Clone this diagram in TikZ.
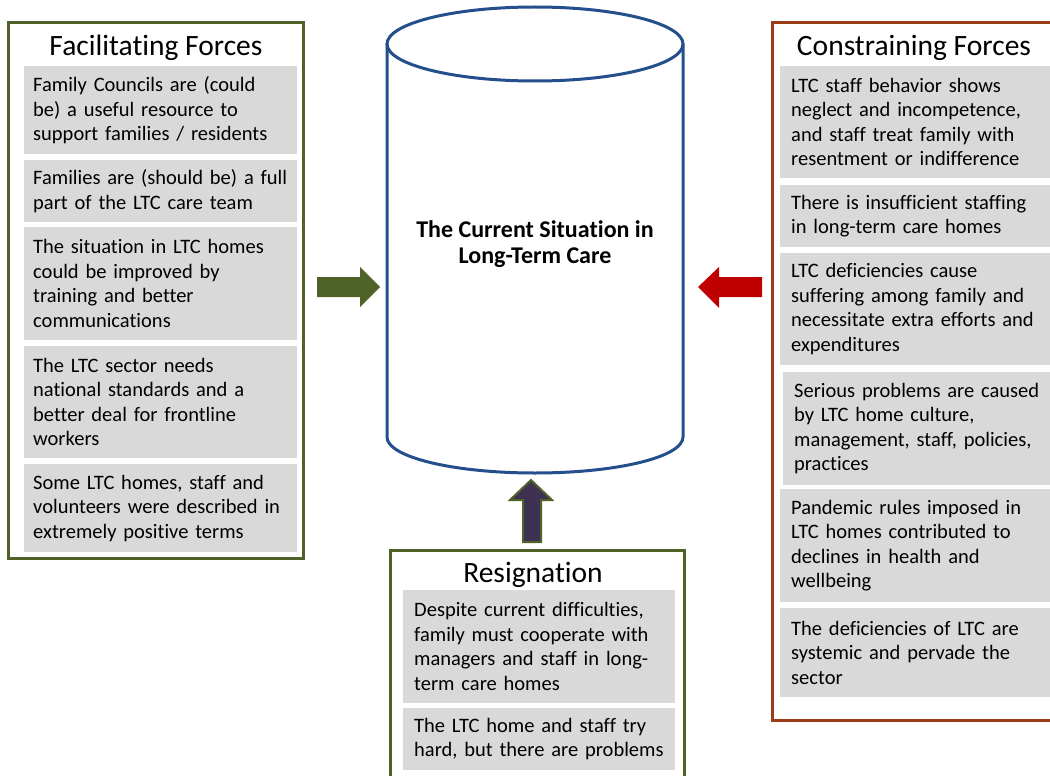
\documentclass[tikz,border=0pt]{standalone}
\usepackage{fontspec}
\setmainfont{Carlito}[Ligatures={NoCommon,NoRequired,NoContextual}]
\usetikzlibrary{positioning}
\definecolor{facgreen}{HTML}{4F6228}
\definecolor{conbrown}{HTML}{9C3D17}
\definecolor{cylblue}{HTML}{254F8C}
\definecolor{arrred}{HTML}{C00000}
\definecolor{arrpurple}{HTML}{3F3151}
\definecolor{boxgray}{HTML}{D9D9D9}
\tikzset{
  item/.style={fill=boxgray, anchor=north west, inner xsep=11pt, inner ysep=0pt,
    align=left, font=\fontsize{20.5}{24.5}\selectfont},
  heading/.style={anchor=base, font=\fontsize{29.5}{33}\selectfont},
  frame/.style={line width=3pt},
}

\begin{document}
\begin{tikzpicture}[x=1pt,y=-1pt]
\useasboundingbox (0,0) rectangle (1050,776);
\clip (0,0) rectangle (1050,776);
% facilitating forces
\draw [frame, facgreen] (8,23) rectangle (303,558);
\node [heading] (facT) at (156,56) {Facilitating Forces};
\node [item, inner xsep=9pt, text width=255pt, minimum height=88pt] (fac1) at (24,66) {Family Councils are (could\\be) a useful resource to\\support families / residents};
\node [item, inner xsep=9pt, text width=255pt, minimum height=62pt] (fac2) at (24,160) {Families are (should be) a full\\part of the LTC care team};
\node [item, inner xsep=9pt, text width=255pt, minimum height=113pt] (fac3) at (24,227) {The situation in LTC homes\\could be improved by\\training and better\\communications};
\node [item, inner xsep=9pt, text width=255pt, minimum height=112pt] (fac4) at (24,346) {The LTC sector needs\\national standards and a\\better deal for frontline\\workers};
\node [item, inner xsep=9pt, text width=255pt, minimum height=88pt] (fac5) at (24,464) {Some LTC homes, staff and\\volunteers were described in\\extremely positive terms};
% constraining forces
\draw [frame, conbrown] (772,23) rectangle (1070,720);
\node [heading] (conT) at (914,56) {Constraining Forces};
\node [item, text width=268pt, minimum height=112pt] (con1) at (780,66) {LTC staff behavior shows\\neglect and incompetence,\\and staff treat family with\\resentment or indifference};
\node [item, text width=268pt, minimum height=62pt] (con2) at (780,185) {There is insufficient staffing\\in long-term care homes};
\node [item, text width=268pt, minimum height=112pt] (con3) at (780,253) {LTC deficiencies cause\\suffering among family and\\necessitate extra efforts and\\expenditures};
\node [item, text width=268pt, minimum height=113pt] (con4) at (783,372) {Serious problems are caused\\by LTC home culture,\\management, staff, policies,\\practices};
\node [item, text width=268pt, minimum height=113pt] (con5) at (780,489) {Pandemic rules imposed in\\LTC homes contributed to\\declines in health and\\wellbeing};
\node [item, text width=268pt, minimum height=89pt] (con6) at (780,608) {The deficiencies of LTC are\\systemic and pervade the\\sector};
% resignation
\draw [frame, facgreen] (390,550) rectangle (684,790);
\node [heading] (resT) at (533,582) {Resignation};
\node [item, text width=250pt, minimum height=113pt] (res1) at (403,590) {Despite current difficulties,\\family must cooperate with\\managers and staff in long-\\term care homes};
\node [item, text width=250pt, minimum height=62pt] (res2) at (403,708) {The LTC home and staff try\\hard, but there are problems};
% the current situation
\draw [line width=3pt, cylblue] (535,44) ellipse [x radius=148, y radius=37];
\draw [line width=3pt, cylblue] (387,44) -- (387,437)
  .. controls (387,457) and (453,473) .. (535,473)
  .. controls (617,473) and (683,457) .. (683,437) -- (683,44);
\node [font=\bfseries\fontsize{24}{26.5}\selectfont, align=center] (sit) at (535,244) {The Current Situation in\\Long-Term Care};
% block arrows
\fill [facgreen] (317,277) -- (360,277) -- (360,267) -- (380,287) -- (360,307) -- (360,297) -- (317,297) -- cycle;
\fill [arrred] (762,277) -- (719,277) -- (719,267) -- (698,287) -- (719,308) -- (719,297) -- (762,297) -- cycle;
\filldraw [fill=arrpurple, draw=facgreen, line width=2pt] (523,542) -- (523,500) -- (510,500) -- (531,480) -- (552,500) -- (541,500) -- (541,542) -- cycle;
\end{tikzpicture}
\end{document}
